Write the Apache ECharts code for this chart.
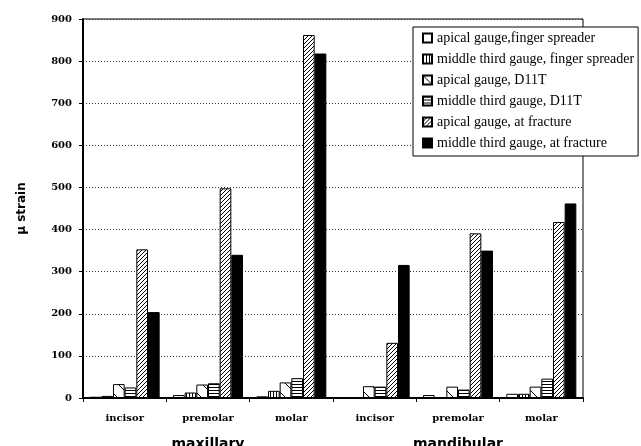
<!DOCTYPE html>
<html>
<head>
<meta charset="utf-8">
<script src="https://cdn.jsdelivr.net/npm/echarts@6/dist/echarts.min.js"></script>
<style>
  html, body { margin: 0; padding: 0; background: #fff; }
  #chart { width: 641px; height: 446px; }
</style>
</head>
<body>
<div id="chart"></div>
<script>
// data
var teeth = ['incisor', 'premolar', 'molar', 'incisor', 'premolar', 'molar'];
var jaws = ['maxillary', 'mandibular'];
var seriesNames = [
  'apical gauge,finger spreader',
  'middle third gauge, finger spreader',
  'apical gauge, D11T',
  'middle third gauge, D11T',
  'apical gauge, at fracture',
  'middle third gauge, at fracture'
];
var apicalFS = [3, 7, 4, 1, 7, 10];
var middleFS = [5, 13, 17, 1, 2, 10];
var apicalD11T = [33, 32, 37, 28, 27, 27];
var middleD11T = [25, 35, 47, 27, 20, 46];
var apicalFrac = [353, 498, 862, 131, 391, 418];
var middleFrac = [204, 340, 818, 316, 350, 462];
var yTicks = [0, 100, 200, 300, 400, 500, 600, 700, 800, 900];

// hatch patterns
function makePattern(size, draw) {
  var c = document.createElement('canvas');
  c.width = size; c.height = size;
  var ctx = c.getContext('2d');
  ctx.fillStyle = '#fff';
  ctx.fillRect(0, 0, size, size);
  ctx.strokeStyle = '#000';
  ctx.lineWidth = 1;
  draw(ctx, size);
  return { image: c, repeat: 'repeat' };
}
var plain = '#fff';
var vertical = makePattern(3, function (ctx, s) {
  ctx.beginPath(); ctx.moveTo(0.5, 0); ctx.lineTo(0.5, s); ctx.stroke();
});
var backslash = makePattern(14, function (ctx, s) {
  ctx.beginPath(); ctx.moveTo(0, 0); ctx.lineTo(s, s); ctx.stroke();
});
var horizontal = makePattern(3, function (ctx, s) {
  ctx.beginPath(); ctx.moveTo(0, 0.5); ctx.lineTo(s, 0.5); ctx.stroke();
});
var slash = makePattern(4, function (ctx, s) {
  ctx.beginPath();
  ctx.moveTo(0, s); ctx.lineTo(s, 0);
  ctx.moveTo(-1, 1); ctx.lineTo(1, -1);
  ctx.moveTo(s - 1, s + 1); ctx.lineTo(s + 1, s - 1);
  ctx.stroke();
});
var fills = [plain, vertical, backslash, horizontal, slash, '#000'];
var values = [apicalFS, middleFS, apicalD11T, middleD11T, apicalFrac, middleFrac];

var chart = echarts.init(document.getElementById('chart'));
chart.setOption({
  animation: false,
  backgroundColor: '#fff',
  grid: {
    left: 83, right: 58, top: 19, bottom: 48,
    outerBoundsMode: 'none',
    show: true, borderColor: '#000', borderWidth: 1
  },
  legend: {
    left: 413, top: 27,
    orient: 'vertical',
    backgroundColor: '#fff',
    borderColor: '#000',
    borderWidth: 1,
    padding: [4, 4, 6, 9],
    itemWidth: 9, itemHeight: 9, itemGap: 7, itemTextGap: 5,
    icon: 'rect',
    textStyle: { fontFamily: 'Liberation Serif', fontSize: 14, color: '#000' },
    data: seriesNames
  },
  xAxis: [{
    type: 'category',
    data: teeth,
    axisLine: { lineStyle: { color: '#000', width: 2 } },
    axisTick: { show: true, length: 4, lineStyle: { color: '#000' } },
    axisLabel: {
      margin: 15, color: '#000', fontFamily: 'DejaVu Serif',
      fontWeight: 'bold', fontSize: 10
    }
  }, {
    type: 'category',
    data: jaws,
    position: 'bottom',
    axisLine: { show: false },
    axisTick: { show: false },
    axisLabel: {
      margin: 39, color: '#000', fontFamily: 'DejaVu Sans',
      fontWeight: 'bold', fontSize: 14
    }
  }],
  yAxis: {
    type: 'value',
    min: 0, max: 900, interval: 100,
    name: 'μ strain',
    nameLocation: 'middle',
    nameGap: 55,
    nameTextStyle: { fontFamily: 'DejaVu Sans', fontWeight: 'bold', fontSize: 12, color: '#000' },
    axisLine: { show: true, lineStyle: { color: '#000', width: 2 } },
    axisTick: { show: true, length: 4, lineStyle: { color: '#000' } },
    axisLabel: {
      margin: 11, color: '#000', fontFamily: 'DejaVu Serif',
      fontWeight: 'bold', fontSize: 10,
      customValues: yTicks
    },
    splitLine: { lineStyle: { color: '#333', type: [1, 2], width: 1 } }
  },
  series: seriesNames.map(function (name, i) {
    return {
      name: name,
      type: 'bar',
      xAxisIndex: 0,
      barGap: '0%',
      barCategoryGap: '16%',
      itemStyle: { color: fills[i], borderColor: '#000', borderWidth: 1 },
      data: values[i]
    };
  })
});
</script>
</body>
</html>
